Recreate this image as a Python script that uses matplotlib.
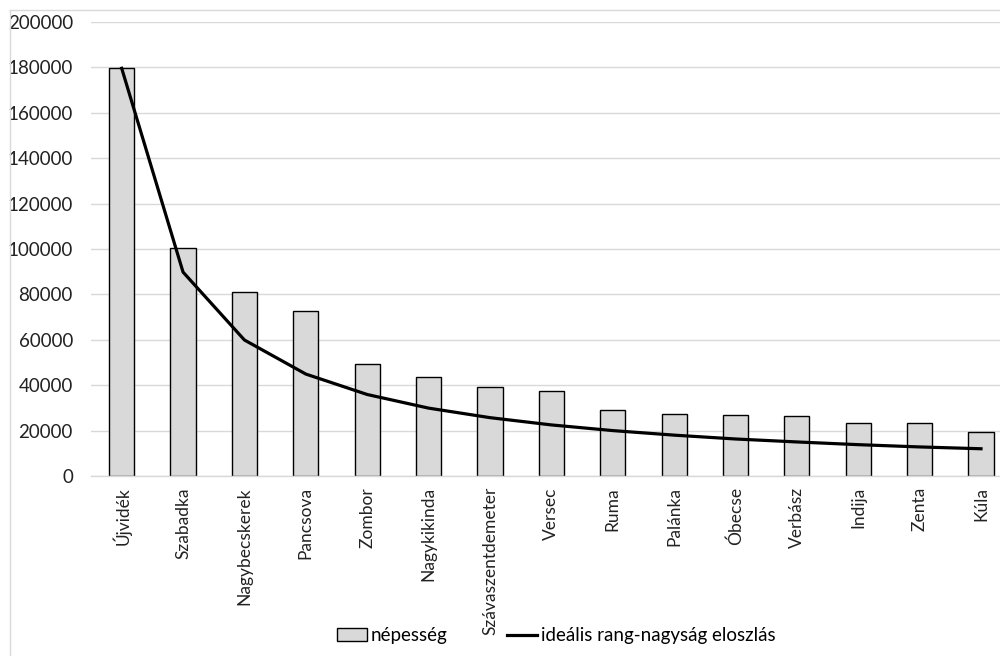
import matplotlib
matplotlib.use('Agg')
import matplotlib.pyplot as plt
from matplotlib.lines import Line2D
import numpy as np

plt.rcParams['font.family'] = ['Lato', 'DejaVu Sans']

# Data

towns = ['Újvidék', 'Szabadka', 'Nagybecskerek', 'Pancsova', 'Zombor',
         'Nagykikinda', 'Szávaszentdemeter', 'Versec', 'Ruma', 'Palánka',
         'Óbecse', 'Verbász', 'Indija', 'Zenta', 'Kúla']
population = [179600, 100400, 81000, 72700, 49300,
              43500, 39100, 37400, 28900, 27200,
              26900, 26300, 23500, 23200, 19500]
ideal = [179600, 89800, 59900, 44900, 35900,
         29900, 25700, 22500, 20000, 18000,
         16300, 15000, 13800, 12800, 12000]
yticks = [0, 20000, 40000, 60000, 80000, 100000,
          120000, 140000, 160000, 180000, 200000]

# Make the figure

fig = plt.figure(figsize=(10, 6.56), dpi=100)
ax = fig.add_axes([0.091, 0.2744, 0.9207, 0.6921])

x = np.arange(len(towns))
bars = ax.bar(x, population, width=0.41, color='#d9d9d9', edgecolor='black',
              linewidth=1.0, zorder=2)
line, = ax.plot(x, ideal, color='black', linewidth=2.3, zorder=3)

ax.set_xlim(-0.5, len(towns) - 0.5)
ax.set_ylim(0, 200000)
ax.set_yticks(yticks)
ax.set_yticklabels([str(v) for v in yticks], fontsize=13.5, color='#222222')
ax.set_xticks(x)
ax.set_xticklabels(towns, rotation=90, fontsize=12.5, color='#222222')
ax.tick_params(axis='both', length=0)
ax.tick_params(axis='y', pad=13)
ax.tick_params(axis='x', pad=8)

ax.yaxis.grid(True, color='#d9d9d9', linewidth=1.0, zorder=0)
for s in ['top', 'right', 'left']:
    ax.spines[s].set_visible(False)
ax.spines['bottom'].set_color('#d9d9d9')
ax.spines['bottom'].set_linewidth(1.0)

# chart frame (top and left edges)
fig.add_artist(Line2D([0.01, 1.0], [1 - 10 / 656, 1 - 10 / 656],
                      transform=fig.transFigure, color='#d9d9d9', linewidth=1.0))
fig.add_artist(Line2D([0.01, 0.01], [0.0, 1 - 10 / 656],
                      transform=fig.transFigure, color='#d9d9d9', linewidth=1.0))

# legend: bars first, then the line
fig.legend([bars, line], ['népesség', 'ideális rang-nagyság eloszlás'],
           loc='center', bbox_to_anchor=(0.556, 0.031),
           ncol=2, frameon=False, fontsize=13.5, handlelength=1.6,
           handletextpad=0.2, columnspacing=3.2)

fig.savefig('out.png', dpi=100)
